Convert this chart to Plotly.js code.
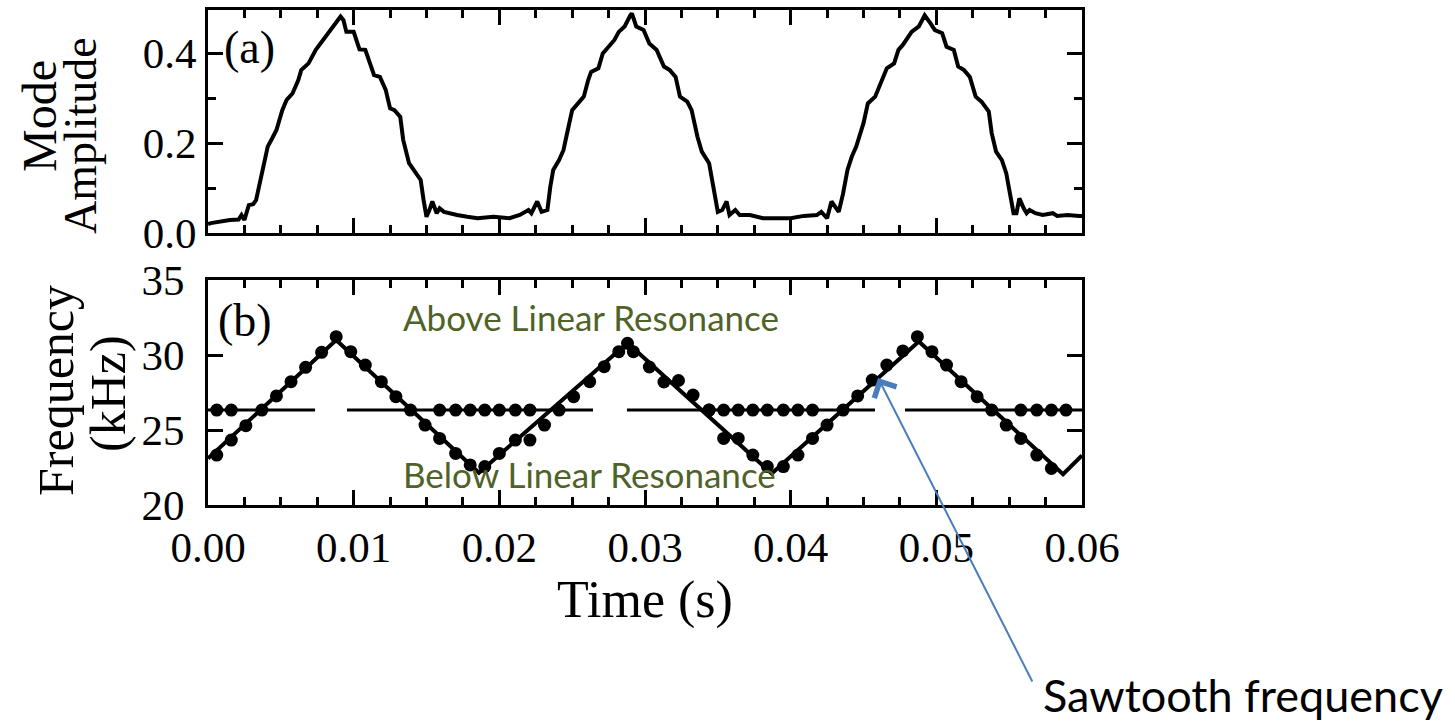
<!DOCTYPE html>
<html>
<head>
<meta charset="utf-8">
<script src="https://cdn.plot.ly/plotly-3.0.1.min.js"></script>
<style>html,body{margin:0;padding:0;background:#fff;}#chart{width:1455px;height:723px;}</style>
</head>
<body>
<div id="chart"></div>
<script>
// ---------- (a) mode amplitude ----------
const ampTime = [0.0000,0.0002,0.0015,0.0021,0.0023,0.0025,0.0028,0.0031,0.0033,0.0036,0.0039,0.0041,0.0044,0.0047,0.0051,0.0054,0.0058,0.0062,0.0064,0.0069,0.0074,0.0078,0.0082,0.0086,0.0091,0.0093,0.0095,0.0100,0.0102,0.0104,0.0108,0.0111,0.0114,0.0118,0.0122,0.0125,0.0128,0.0132,0.0134,0.0138,0.0142,0.0146,0.0148,0.0150,0.0152,0.0154,0.0157,0.0159,0.0162,0.0165,0.0171,0.0178,0.0185,0.0196,0.0207,0.0214,0.0220,0.0222,0.0226,0.0229,0.0233,0.0235,0.0237,0.0241,0.0244,0.0246,0.0250,0.0254,0.0258,0.0261,0.0263,0.0268,0.0271,0.0275,0.0279,0.0282,0.0286,0.0290,0.0291,0.0294,0.0299,0.0303,0.0308,0.0313,0.0317,0.0321,0.0324,0.0329,0.0332,0.0336,0.0339,0.0344,0.0346,0.0348,0.0350,0.0353,0.0356,0.0358,0.0362,0.0365,0.0372,0.0381,0.0400,0.0409,0.0418,0.0421,0.0425,0.0428,0.0433,0.0436,0.0439,0.0442,0.0445,0.0450,0.0453,0.0458,0.0463,0.0466,0.0471,0.0474,0.0477,0.0483,0.0488,0.0492,0.0496,0.0499,0.0504,0.0507,0.0512,0.0515,0.0519,0.0523,0.0527,0.0531,0.0536,0.0538,0.0541,0.0545,0.0548,0.0551,0.0553,0.0555,0.0557,0.0560,0.0562,0.0564,0.0568,0.0573,0.0580,0.0583,0.0590,0.0598,0.0600];
const ampValue = [0.020,0.022,0.029,0.030,0.040,0.029,0.062,0.064,0.073,0.118,0.170,0.192,0.210,0.229,0.273,0.296,0.310,0.340,0.362,0.377,0.407,0.425,0.444,0.459,0.481,0.473,0.447,0.447,0.425,0.408,0.407,0.381,0.351,0.347,0.318,0.277,0.273,0.258,0.207,0.155,0.136,0.118,0.073,0.036,0.051,0.070,0.044,0.055,0.047,0.044,0.040,0.036,0.033,0.036,0.033,0.040,0.051,0.044,0.070,0.047,0.051,0.103,0.140,0.162,0.184,0.214,0.273,0.288,0.303,0.340,0.358,0.366,0.399,0.414,0.429,0.447,0.459,0.484,0.488,0.459,0.451,0.421,0.407,0.370,0.362,0.347,0.303,0.292,0.273,0.214,0.181,0.155,0.118,0.073,0.047,0.051,0.070,0.040,0.051,0.040,0.040,0.033,0.033,0.038,0.040,0.047,0.033,0.070,0.047,0.088,0.140,0.170,0.192,0.244,0.288,0.303,0.340,0.366,0.377,0.407,0.418,0.447,0.459,0.484,0.466,0.451,0.444,0.414,0.407,0.370,0.362,0.347,0.303,0.292,0.270,0.222,0.181,0.162,0.133,0.073,0.044,0.044,0.077,0.055,0.044,0.051,0.044,0.040,0.044,0.038,0.040,0.038,0.038];

// ---------- (b) frequency ----------
// sawtooth (solid line)
const sawLineTime = [0.0000,0.0088,0.0186,0.0288,0.0387,0.0488,0.0587,0.0600];
const sawLineFreq = [23.1,31.0,22.15,30.8,22.1,30.9,22.05,23.3];
// mode frequency following the sawtooth (dots)
const sawDotTime = [0.0006,0.0016,0.0026,0.0037,0.0047,0.0057,0.0067,0.0078,0.0088,0.0098,0.0108,0.0119,0.0129,0.0139,0.0149,0.0159,0.0170,0.0180,0.0190,0.0200,0.0211,0.0221,0.0231,0.0241,0.0251,0.0262,0.0272,0.0282,0.0288,0.0292,0.0303,0.0313,0.0323,0.0333,0.0344,0.0354,0.0364,0.0374,0.0384,0.0395,0.0405,0.0415,0.0425,0.0436,0.0446,0.0456,0.0466,0.0477,0.0487,0.0497,0.0507,0.0517,0.0528,0.0538,0.0548,0.0558,0.0569,0.0579];
const sawDotFreq = [23.33,24.33,25.29,26.33,27.27,28.22,29.18,30.18,31.22,30.22,29.33,28.22,27.22,26.33,25.33,24.44,23.44,22.67,22.56,23.44,24.33,24.33,25.33,26.33,27.22,28.22,29.22,30.22,30.78,30.22,29.2,28.2,28.3,27.33,26.33,24.44,24.44,23.33,22.56,22.56,23.33,24.44,25.33,26.33,27.27,28.33,29.33,30.27,31.22,30.22,29.33,28.22,27.22,26.33,25.33,24.44,23.33,22.44];
// mode frequency sitting at the linear resonance (dots)
const resDotTime = [0.0006,0.0016,0.0159,0.0170,0.0180,0.0190,0.0200,0.0211,0.0221,0.0344,0.0354,0.0364,0.0374,0.0384,0.0395,0.0405,0.0415,0.0558,0.0569,0.0579,0.0589];
const resDotFreq = [26.33,26.33,26.33,26.33,26.33,26.33,26.33,26.33,26.33,26.33,26.33,26.33,26.33,26.33,26.33,26.33,26.33,26.33,26.33,26.33,26.33];
// linear resonance (broken line)
const resLineTime = [0,0.00735,null,0.00954,0.02643,null,0.02876,0.04579,null,0.04785,0.06];
const resLineFreq = [26.33,26.33,null,26.33,26.33,null,26.33,26.33,null,26.33,26.33];

// ---------- ticks ----------
const timeTicks = [0,0.01,0.02,0.03,0.04,0.05,0.06];
const timeTickText = ['0.00','0.01','0.02','0.03','0.04','0.05','0.06'];
const ampTicks = [0,0.2,0.4];
const ampTickText = ['0.0','0.2','0.4'];
const freqTicks = [20,25,30,35];
const freqTickText = ['20','25','30','35'];

const SERIF = 'Liberation Serif, Times New Roman, serif';
const SANS = 'Lato, Open Sans, sans-serif';
const GREEN = '#4F6228';

const traces = [
  {x: ampTime, y: ampValue, xaxis: 'x', yaxis: 'y', mode: 'lines', line: {color: 'black', width: 4}, name: 'Mode Amplitude'},
  {x: resLineTime, y: resLineFreq, xaxis: 'x2', yaxis: 'y2', mode: 'lines', line: {color: 'black', width: 3}, connectgaps: false, name: 'Linear resonance'},
  {x: sawLineTime, y: sawLineFreq, xaxis: 'x2', yaxis: 'y2', mode: 'lines', line: {color: 'black', width: 4}, name: 'Sawtooth frequency'},
  {x: resDotTime, y: resDotFreq, xaxis: 'x2', yaxis: 'y2', mode: 'markers', marker: {color: 'black', size: 13}, name: 'Mode frequency (resonance)'},
  {x: sawDotTime, y: sawDotFreq, xaxis: 'x2', yaxis: 'y2', mode: 'markers', marker: {color: 'black', size: 13}, name: 'Mode frequency'}
];

const axisCommon = {
  showline: true, linecolor: 'black', linewidth: 3, mirror: 'allticks',
  ticks: 'inside', ticklen: 15, tickwidth: 3, tickcolor: 'black',
  showgrid: false, zeroline: false,
  tickfont: {family: SERIF, size: 43, color: 'black'}
};

const layout = {
  width: 1455, height: 723,
  margin: {l: 208, r: 373, t: 10, b: 218},
  paper_bgcolor: 'white', plot_bgcolor: 'white',
  showlegend: false,
  xaxis: Object.assign({}, axisCommon, {
    domain: [0, 1], anchor: 'y', range: [0, 0.06],
    tickmode: 'array', tickvals: timeTicks, ticktext: timeTickText, showticklabels: false,
    minor: {ticks: 'inside', ticklen: 8, tickwidth: 3, tickcolor: 'black', dtick: 0.0025, tick0: 0}
  }),
  yaxis: Object.assign({}, axisCommon, {
    domain: [0.5495, 1], anchor: 'x', range: [0, 0.4956],
    tickmode: 'array', tickvals: ampTicks, ticktext: ampTickText, ticklabelstandoff: 0,
    minor: {ticks: 'inside', ticklen: 8, tickwidth: 3, tickcolor: 'black', dtick: 0.1, tick0: 0}
  }),
  xaxis2: Object.assign({}, axisCommon, {
    domain: [0, 1], anchor: 'y2', range: [0, 0.06],
    tickmode: 'array', tickvals: timeTicks, ticktext: timeTickText, ticklabelstandoff: 2,
    minor: {ticks: 'inside', ticklen: 8, tickwidth: 3, tickcolor: 'black', dtick: 0.0025, tick0: 0},
    title: {text: 'Time (s)', font: {family: SERIF, size: 52, color: 'black'}, standoff: 6}
  }),
  yaxis2: Object.assign({}, axisCommon, {
    domain: [0, 0.4545], anchor: 'x2', range: [20, 35],
    tickmode: 'array', tickvals: freqTicks, ticktext: freqTickText, ticklabelstandoff: 12
  }),
  annotations: [
    {text: 'Mode', xref: 'paper', yref: 'paper', x: (39 - 208) / 874, y: (505 - 116) / 495, textangle: -90, showarrow: false, xanchor: 'center', yanchor: 'middle', font: {family: SERIF, size: 48, color: 'black'}},
    {text: 'Amplitude', xref: 'paper', yref: 'paper', x: (80 - 208) / 874, y: (505 - 136) / 495, textangle: -90, showarrow: false, xanchor: 'center', yanchor: 'middle', font: {family: SERIF, size: 46, color: 'black'}},
    {text: 'Frequency', xref: 'paper', yref: 'paper', x: (56 - 208) / 874, y: (505 - 391) / 495, textangle: -90, showarrow: false, xanchor: 'center', yanchor: 'middle', font: {family: SERIF, size: 50, color: 'black'}},
    {text: '(kHz)', xref: 'paper', yref: 'paper', x: (108 - 208) / 874, y: (505 - 394) / 495, textangle: -90, showarrow: false, xanchor: 'center', yanchor: 'middle', font: {family: SERIF, size: 50, color: 'black'}},
    {text: '(a)', xref: 'x domain', yref: 'y domain', x: 0.048, y: 0.83, showarrow: false, xanchor: 'center', yanchor: 'middle', font: {family: SERIF, size: 46, color: 'black'}},
    {text: '(b)', xref: 'x2 domain', yref: 'y2 domain', x: 0.042, y: 0.82, showarrow: false, xanchor: 'center', yanchor: 'middle', font: {family: SERIF, size: 46, color: 'black'}},
    {text: 'Above Linear Resonance', xref: 'x2 domain', yref: 'y2 domain', x: 0.438, y: 0.835, showarrow: false, xanchor: 'center', yanchor: 'middle', font: {family: SANS, size: 35, color: GREEN}},
    {text: 'Below Linear Resonance', xref: 'x2 domain', yref: 'y2 domain', x: 0.437, y: 0.138, showarrow: false, xanchor: 'center', yanchor: 'middle', font: {family: SANS, size: 35, color: GREEN}},
    {text: 'Sawtooth frequency', xref: 'paper', yref: 'paper', x: (1243 - 208) / 874, y: (505 - 695) / 495, showarrow: false, xanchor: 'center', yanchor: 'middle', font: {family: SANS, size: 45, color: 'black'}},
    {text: '', xref: 'x2', yref: 'y2', x: 0.0460, y: 28.47, showarrow: true, ax: 155, ay: 305, arrowcolor: '#4A7EBB', arrowwidth: 2, arrowhead: 4, arrowsize: 2.4, standoff: 0}
  ]
};

Plotly.newPlot('chart', traces, layout, {displayModeBar: false, staticPlot: true});
</script>
</body>
</html>
